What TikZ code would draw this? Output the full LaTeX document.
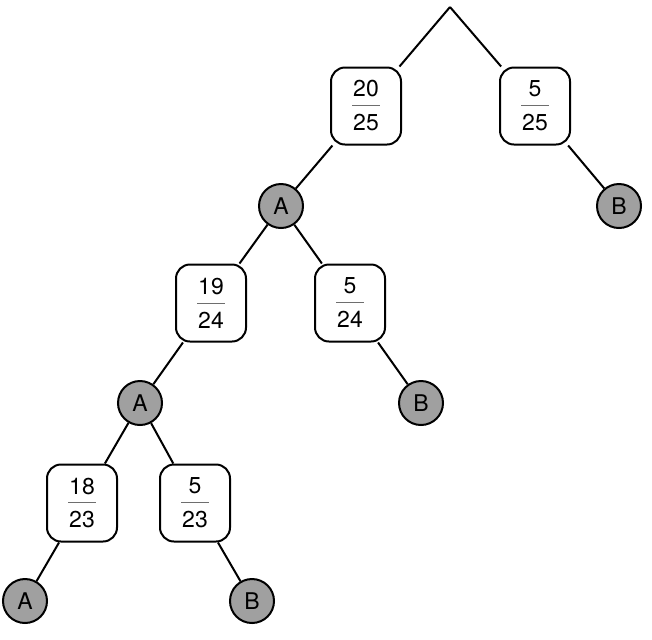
\documentclass[tikz,border=0pt]{standalone}
\usepackage{fontspec}
\setmainfont{TeX Gyre Heros}
\usepackage{xcolor}
\usepackage{tikz}
\usetikzlibrary{positioning}
\definecolor{ballGray}{RGB}{160, 160, 160}
\definecolor{barGray}{RGB}{110, 110, 110}
\newcommand{\prob}[2]{#1\\[-4.5pt]{\color{barGray}\rule[3.8pt]{14pt}{0.5pt}}\\[-4.5pt]#2}
\tikzset{
  probbox/.style={
    rectangle, rounded corners=7pt,
    draw=black, fill=white, line width=1pt,
    minimum width=35pt, minimum height=38.5pt,
    inner sep=0pt, align=center, font=\fontsize{11.5}{13}\selectfont
  },
  ball/.style={
    circle,
    draw=black, fill=ballGray, line width=1pt,
    minimum size=22pt, inner sep=0pt,
    font=\fontsize{11.5}{13}\selectfont
  },
  branch/.style={
    line width=1pt, color=black
  }
}

\begin{document}
\begin{tikzpicture}[x=0.5pt, y=-0.5pt]
\useasboundingbox (0,0) rectangle (652,639);

% --- First draw ---
\coordinate (root) at (450,7);
\node[probbox] (p1) at (366,106) {\prob{20}{25}};
\node[probbox] (q1) at (535,106) {\prob{5}{25}};
\node[ball] (a1) at (281,206) {A};
\node[ball] (b1) at (619,206) {B};

% --- Second draw ---
\node[probbox] (p2) at (211,303) {\prob{19}{24}};
\node[probbox] (q2) at (350,303) {\prob{5}{24}};
\node[ball] (a2) at (140,403) {A};
\node[ball] (b2) at (421,403) {B};

% --- Third draw ---
\node[probbox] (p3) at (82,503) {\prob{18}{23}};
\node[probbox] (q3) at (195,503) {\prob{5}{23}};
\node[ball] (a3) at (25,601) {A};
\node[ball] (b3) at (252,601) {B};

% --- branches ---
\draw[branch] (root) -- (p1);
\draw[branch] (root) -- (q1);
\draw[branch] (p1) -- (a1);
\draw[branch] (q1) -- (b1);

\draw[branch] (a1) -- (p2);
\draw[branch] (a1) -- (q2);
\draw[branch] (p2) -- (a2);
\draw[branch] (q2) -- (b2);

\draw[branch] (a2) -- (p3);
\draw[branch] (a2) -- (q3);
\draw[branch] (p3) -- (a3);
\draw[branch] (q3) -- (b3);

\end{tikzpicture}
\end{document}
